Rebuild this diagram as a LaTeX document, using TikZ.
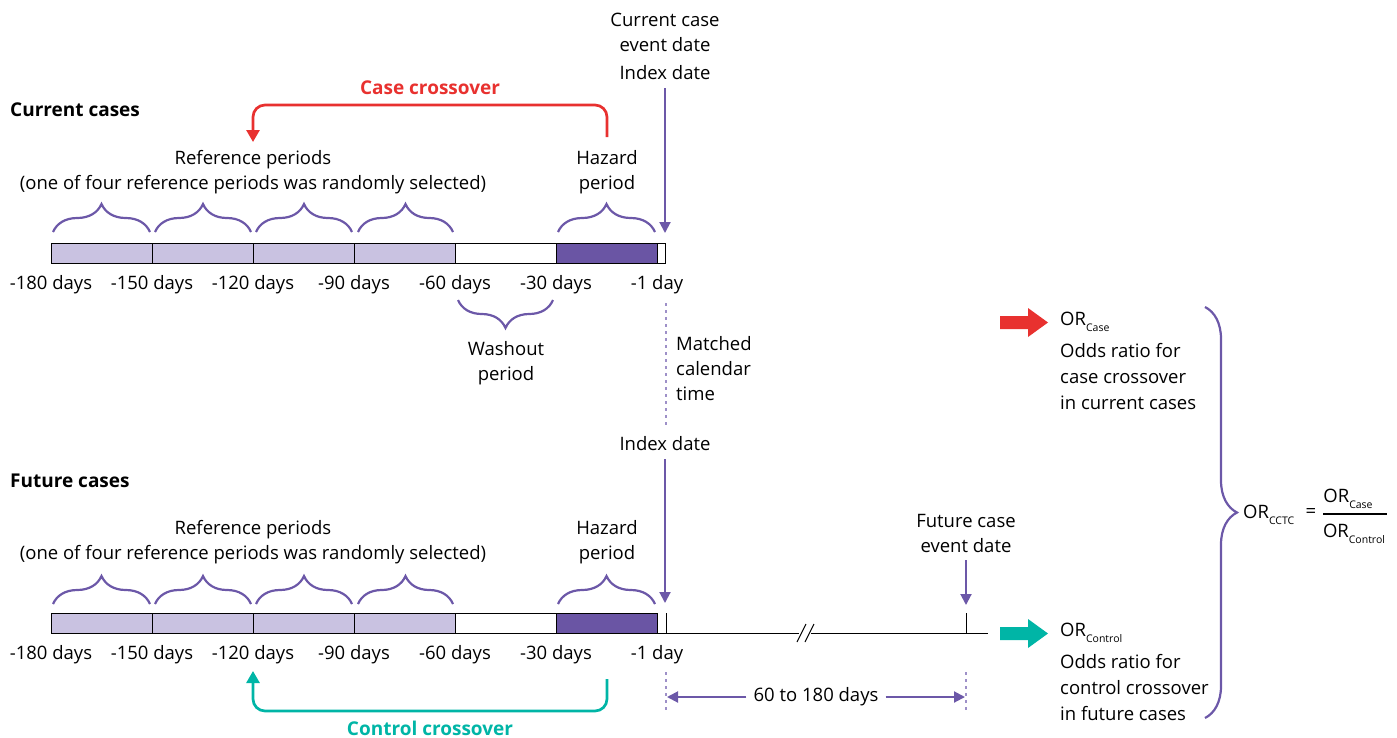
\documentclass[tikz,border=0pt]{standalone}
\usepackage{fontspec}
\setmainfont{Open Sans}
\usetikzlibrary{decorations.pathreplacing,arrows.meta}
\definecolor{lp}{HTML}{C9C2E1}
\definecolor{dp}{HTML}{6A55A4}
\definecolor{pl}{HTML}{6C58A8}
\definecolor{rd}{HTML}{E8312F}
\definecolor{tl}{HTML}{00B5A6}
\definecolor{dotc}{HTML}{9E90C8}
\newcommand\orsub[1]{\raisebox{-0.55ex}{\fontsize{10.5}{10.5}\selectfont #1}}
\begin{document}
\begin{tikzpicture}[x=1pt,y=-1pt,
  every node/.style={inner sep=0pt, font=\fontsize{18.5}{25}\selectfont},
  lbl/.style={align=center},
  bold/.style={font=\fontsize{19}{25}\selectfont\bfseries},
  brc/.style={draw=pl, line width=2.2pt, decorate, decoration={brace, amplitude=28pt}},
  seg/.style={draw=black, line width=1pt},
  parr/.style={draw=pl, line width=2pt, -{Triangle[length=11pt,width=11pt]}},
  xarr/.style={line width=2.7pt, rounded corners=12pt, -{Triangle[length=12pt,width=13pt]}},
  dots/.style={draw=dotc, line width=2.6pt, dash pattern=on 3pt off 4pt},
  blk/.style={line width=1pt},
  orblock/.style={align=left, anchor=north west, font=\fontsize{18.5}{26}\selectfont}
]
\useasboundingbox (0,0) rectangle (1397,737);

% ---------------- Current cases ----------------
\node[bold, anchor=west] (curlab) at (10,110) {Current cases};
\node[bold, text=rd] (ccx) at (430,88) {Case crossover};
\coordinate (ccxR) at (607,137);
\coordinate (ccxL) at (253,142);
\draw[xarr, draw=rd] (ccxR) -- (607,105) -- (253,105) -- (ccxL);

\node[lbl] (ref1) at (253,172) {Reference periods\\(one of four reference periods was randomly selected)};
\node[lbl] (haz1) at (607,172) {Hazard\\period};
\node[lbl] (cce) at (665,32) {Current case\\event date};
\node (idx1) at (665,73) {Index date};

% bar
\foreach \a/\b/\c in {51/152/lp,152/253/lp,253/354/lp,354/455/lp,455/556/white,556/657/dp,657/665/white}{
  \path[seg, fill=\c] (\a,243) rectangle (\b,263);
}
% braces above
\foreach \a/\b in {53/150,155/251,256/352,358/453,558/655}{
  \draw[brc] (\a,232) -- (\b,232);
}
\coordinate (idx1tip) at (665,233);
\draw[parr] (idx1.south) ++(0,8) -- (idx1tip);

% tick labels
\foreach \x/\t [count=\i] in {51/-180 days,152/-150 days,253/-120 days,354/-90 days,455/-60 days,556/-30 days,657/-1 day}{
  \node (t1\i) at (\x,285) {\t};
}
% washout
\draw[brc] (553,300) -- (458,300);
\node[lbl] (wash) at (506,363) {Washout\\period};

% matched calendar time
\coordinate (dotA) at (666,303);
\coordinate (dotB) at (666,428);
\draw[dots] (dotA) -- (dotB);
\node[align=left, anchor=west] (mct) at (676,369) {Matched\\calendar\\time};

% ---------------- Future cases ----------------
\node (idx2) at (665,444) {Index date};
\node[bold, anchor=west] (futlab) at (10,481) {Future cases};
\node[lbl] (ref2) at (253,542) {Reference periods\\(one of four reference periods was randomly selected)};
\node[lbl] (haz2) at (607,542) {Hazard\\period};
\node[lbl] (fce) at (966,533) {Future case\\event date};

\foreach \a/\b/\c in {51/152/lp,152/253/lp,253/354/lp,354/455/lp,455/556/white,556/657/dp}{
  \path[seg, fill=\c] (\a,613) rectangle (\b,633);
}
\foreach \a/\b in {53/150,155/251,256/352,358/453,558/655}{
  \draw[brc] (\a,604) -- (\b,604);
}
% timeline extension
\coordinate (lnA) at (657,633);
\coordinate (brkA) at (799,633);
\coordinate (brkB) at (811,633);
\coordinate (lnB) at (988,633);
\draw[blk] (lnA) -- (brkA);
\draw[blk] (brkB) -- (lnB);
\draw[blk] (797,642) -- (806,624);
\draw[blk] (805,642) -- (814,624);
\draw[blk] (666,613) -- (666,633);
\draw[blk] (966,613) -- (966,633);

\coordinate (idx2tip) at (665,603);
\draw[parr] (idx2.south) ++(0,8) -- (idx2tip);
\coordinate (fcetip) at (966,605);
\draw[parr] (fce.south) ++(0,8) -- (fcetip);

\foreach \x/\t [count=\i] in {51/-180 days,152/-150 days,253/-120 days,354/-90 days,455/-60 days,556/-30 days,657/-1 day}{
  \node (t2\i) at (\x,655) {\t};
}

% 60 to 180 days
\draw[dots] (666,672) -- (666,713);
\draw[dots] (966,672) -- (966,713);
\node (d60) at (816,697) {60 to 180 days};
\coordinate (d60L) at (667,697);
\coordinate (d60R) at (965,697);
\draw[parr] (d60.west) ++(-7,0) -- (d60L);
\draw[parr] (d60.east) ++(7,0) -- (d60R);

% control crossover
\coordinate (ctrR) at (607,679);
\coordinate (ctrL) at (253,671);
\draw[xarr, draw=tl] (ctrR) -- (607,711) -- (253,711) -- (ctrL);
\node[bold, text=tl] (ctx) at (430,728) {Control crossover};

% ---------------- Right side ----------------
\fill[rd] (1000,316) -- (1028,316) -- (1028,308) -- (1048,322.5) -- (1028,337) -- (1028,329) -- (1000,329) -- cycle;
\fill[tl] (1000,627) -- (1028,627) -- (1028,619) -- (1048,633.5) -- (1028,648) -- (1028,640) -- (1000,640) -- cycle;

\node[orblock] (orcase) at (1060,312) {OR\orsub{Case}\\[6pt]Odds ratio for\\case crossover\\in current cases};
\node[orblock] (orctrl) at (1060,623) {OR\orsub{Control}\\[6pt]Odds ratio for\\control crossover\\in future cases};

\draw[brc, decoration={brace, amplitude=32pt}] (1205,307) -- (1205,718);

\node[anchor=west] (orcctc) at (1243,515) {OR\orsub{CCTC}};
\node (eq) at (1311,513) {=};
\node (num) at (1348,499) {OR\orsub{Case}};
\node (den) at (1354,534) {OR\orsub{Control}};
\draw[line width=1.3pt] (1323,514) -- (1387,514);
\end{tikzpicture}
\end{document}
